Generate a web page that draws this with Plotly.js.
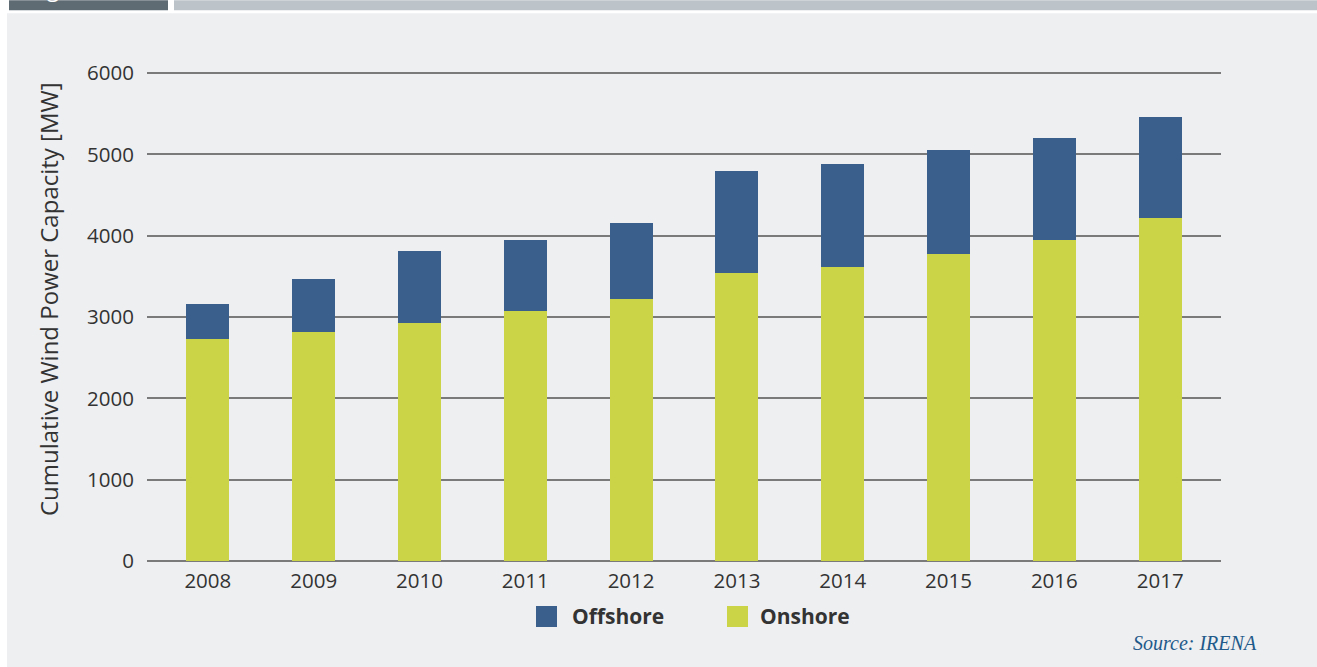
<!DOCTYPE html>
<html>
<head>
<meta charset="utf-8">
<script src="https://cdn.plot.ly/plotly-3.0.1.min.js"></script>
<style>
html,body{margin:0;padding:0;background:#ffffff;}
#chart{width:1317px;height:667px;}
</style>
</head>
<body>
<div id="chart"></div>
<script>
const years = ['2008','2009','2010','2011','2012','2013','2014','2015','2016','2017'];
const onshore = [2730, 2816, 2926, 3074, 3221, 3541, 3615, 3775, 3947, 4217];
const offshore = [430, 651, 886, 873, 935, 1254, 1266, 1278, 1254, 1242];
const seriesNames = ['Offshore', 'Onshore'];
const seriesColors = ['#3a5f8c', '#cbd447'];
const yTicks = [0, 1000, 2000, 3000, 4000, 5000, 6000];
const yTitle = 'Cumulative Wind Power Capacity [MW]';

const traces = [
  {type:'bar', name:seriesNames[1], x:years, y:onshore, marker:{color:seriesColors[1]}, hoverinfo:'skip'},
  {type:'bar', name:seriesNames[0], x:years, y:offshore, marker:{color:seriesColors[0]}, hoverinfo:'skip'}
];

const W = 1317, H = 667;
const mL = 147, mR = 96, mB = 106;
const ph = 488 * 6100 / 6000;
const mT = H - mB - ph;
const pw = W - mL - mR;
function px2x(p){ return (p - mL) / pw; }
function px2y(p){ return (H - mB - p) / ph; }

const shapes = [
  {type:'rect', xref:'paper', yref:'paper', x0:px2x(7), x1:px2x(1317), y0:px2y(667), y1:px2y(13), fillcolor:'#eeeff1', line:{width:0}, layer:'below'},
  {type:'rect', xref:'paper', yref:'paper', x0:px2x(9), x1:px2x(168), y0:px2y(10), y1:px2y(0), fillcolor:'#5f6b73', line:{width:0}, layer:'below'},
  {type:'rect', xref:'paper', yref:'paper', x0:px2x(174), x1:px2x(1317), y0:px2y(10), y1:px2y(0), fillcolor:'#bcc4c9', line:{width:0}, layer:'below'},
  {type:'rect', xref:'paper', yref:'paper', x0:px2x(536), x1:px2x(557), y0:px2y(627), y1:px2y(606), fillcolor:seriesColors[0], line:{width:0}},
  {type:'rect', xref:'paper', yref:'paper', x0:px2x(727), x1:px2x(748), y0:px2y(627), y1:px2y(606), fillcolor:seriesColors[1], line:{width:0}}
];

const annotations = [
  {xref:'paper', yref:'paper', x:px2x(570), y:px2y(616), xanchor:'left', yanchor:'middle', text:'<b>'+seriesNames[0]+'</b>', showarrow:false, font:{family:'Open Sans', size:21, color:'#333333'}},
  {xref:'paper', yref:'paper', x:px2x(758), y:px2y(616), xanchor:'left', yanchor:'middle', text:'<b>'+seriesNames[1]+'</b>', showarrow:false, font:{family:'Open Sans', size:21, color:'#333333'}},
  {xref:'paper', yref:'paper', x:px2x(1259), y:px2y(643), xanchor:'right', yanchor:'middle', text:'<i>Source: IRENA</i>', showarrow:false, font:{family:'Liberation Serif', size:20, color:'#1f5a8a'}},
  {xref:'paper', yref:'paper', x:px2x(48), y:px2y(299), xanchor:'center', yanchor:'middle', textangle:-90, text:yTitle, showarrow:false, font:{family:'Open Sans', size:24, color:'#333333'}},
  {xref:'paper', yref:'paper', x:px2x(28), y:px2y(5), xanchor:'left', yanchor:'bottom', text:'Figure', showarrow:false, font:{family:'Open Sans', size:22, color:'#ffffff'}}
];

const layout = {
  width: W, height: H,
  margin:{l:mL, r:mR, t:mT, b:mB, pad:0},
  paper_bgcolor:'rgba(0,0,0,0)',
  plot_bgcolor:'rgba(0,0,0,0)',
  barmode:'stack',
  bargap:0.594,
  showlegend:false,
  font:{family:'Open Sans', color:'#333333'},
  xaxis:{
    type:'category', range:[-0.575, 9.575], showgrid:false, zeroline:false,
    showline:false, ticks:'', tickfont:{family:'Open Sans', size:20.5, color:'#333333'},
    ticklabelstandoff:5, fixedrange:true
  },
  yaxis:{
    range:[0, 6100], tickvals:yTicks, ticktext:yTicks.map(String),
    showgrid:true, gridcolor:'#7a7a7a', gridwidth:2,
    zeroline:true, zerolinecolor:'#7a7a7a', zerolinewidth:2,
    showline:false, ticks:'', tickfont:{family:'Open Sans', size:20.5, color:'#333333'},
    ticklabelstandoff:12,
    fixedrange:true
  },
  shapes: shapes,
  annotations: annotations
};

Plotly.newPlot('chart', traces, layout, {displayModeBar:false, staticPlot:true});
</script>
</body>
</html>
